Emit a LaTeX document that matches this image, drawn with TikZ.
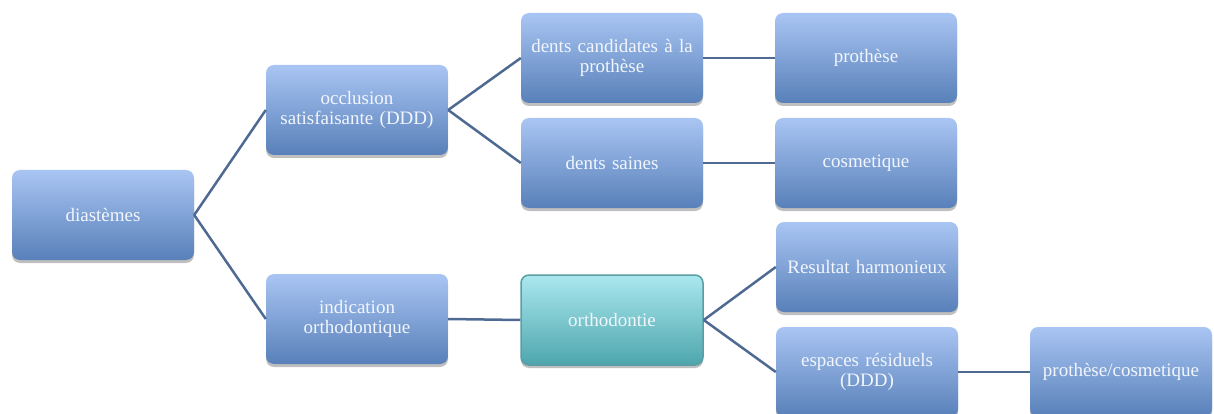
\documentclass[tikz,border=0pt]{standalone}
\usepackage{fontspec}
\setmainfont{Liberation Serif}
\usetikzlibrary{shadows}
\definecolor{btop}{HTML}{A9C5F3}
\definecolor{bbot}{HTML}{5880B9}
\definecolor{ttop}{HTML}{ABE8EF}
\definecolor{tbot}{HTML}{4DA6AC}
\definecolor{tedge}{HTML}{5A9EA5}
\definecolor{conn}{HTML}{4F6A92}
\definecolor{txt}{HTML}{F2F6FC}
\tikzset{
  box/.style={rounded corners=8pt, minimum width=182pt, minimum height=90pt,
    text width=176pt, align=center, inner sep=0pt, top color=btop, bottom color=bbot,
    draw=none, text=txt, font=\fontsize{19}{19.5}\selectfont,
    drop shadow={shadow xshift=0pt, shadow yshift=-3pt, opacity=0.25, fill=black}},
  tbox/.style={box, top color=ttop, bottom color=tbot, draw=tedge, line width=1.5pt},
  link/.style={draw=conn, line width=2.5pt}
}
\begin{document}
\begin{tikzpicture}[x=1pt,y=-1pt]
\useasboundingbox (0,0) rectangle (1214,414);
\node[box] (dia) at (103,215) {diastèmes};
\node[box] (occ) at (357,110) {occlusion\\satisfaisante (DDD)};
\node[box] (ind) at (357,319) {indication\\orthodontique};
\node[box] (cand) at (612,58) {dents candidates à la\\prothèse};
\node[box] (sain) at (612,163) {dents saines};
\node[tbox] (orth) at (612,320) {orthodontie};
\node[box] (pro) at (866,58) {prothèse};
\node[box] (cos) at (866,163) {cosmetique};
\node[box] (res) at (867,267) {Resultat harmonieux};
\node[box] (esp) at (867,372) {espaces résiduels\\(DDD)};
\node[box] (pc) at (1121,372) {prothèse/cosmetique};
\draw[link] (dia.east) -- (occ.west);
\draw[link] (dia.east) -- (ind.west);
\draw[link] (occ.east) -- (cand.west);
\draw[link] (occ.east) -- (sain.west);
\draw[link] (cand.east) -- (pro.west);
\draw[link] (sain.east) -- (cos.west);
\draw[link] (ind.east) -- (orth.west);
\draw[link] (orth.east) -- (res.west);
\draw[link] (orth.east) -- (esp.west);
\draw[link] (esp.east) -- (pc.west);
\end{tikzpicture}
\end{document}
